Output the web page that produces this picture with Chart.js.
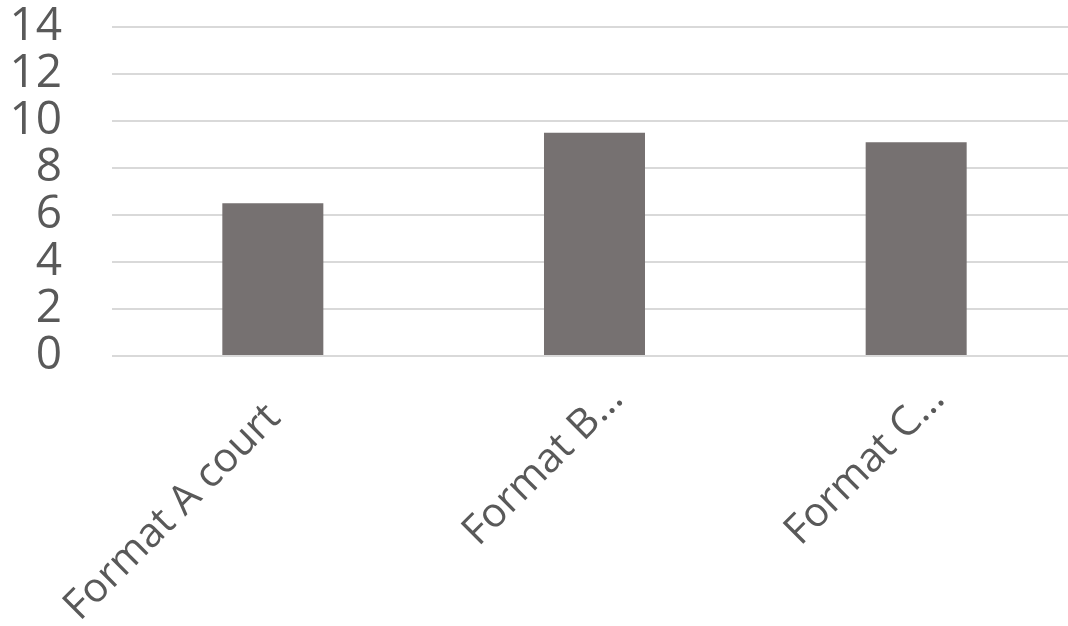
<!DOCTYPE html>
<html>
<head>
<meta charset="utf-8">
<script src="https://cdn.jsdelivr.net/npm/chart.js@4"></script>
<style>
  html, body { margin: 0; padding: 0; background: #fff; overflow: hidden; }
  /* plot runs slightly past the right edge of the picture, as in the original */
  #wrap { width: 1077px; height: 626px; position: relative; }
</style>
</head>
<body>
<div id="wrap"><canvas id="chart"></canvas></div>
<script>
const categories = ['Format A court', 'Format B…', 'Format C…'];
const values = [6.5, 9.5, 9.1];
const yMin = 0;
const yMax = 14;
const yStep = 2;

const textColor = '#595959';
const gridColor = '#d9d9d9';
const barColor = '#767171';

// nudge rotated category labels to where excel put them
const labelNudge = [[1, 22], [22, 3], [22, 3]];
const shiftXLabels = {
  id: 'shiftXLabels',
  beforeDraw(chart) {
    const items = chart.scales.x.getLabelItems();
    items.forEach((it, i) => {
      if (it._shifted) return;
      const n = labelNudge[i] || [0, 0];
      it.options.translation[0] += n[0];
      it.options.translation[1] += n[1];
      it._shifted = true;
    });
  }
};

const chart = new Chart(document.getElementById('chart'), {
  type: 'bar',
  data: {
    labels: categories,
    datasets: [{
      data: values,
      backgroundColor: barColor,
      borderWidth: 0,
      categoryPercentage: 1,
      barPercentage: 0.314
    }]
  },
  options: {
    responsive: true,
    maintainAspectRatio: false,
    animation: false,
    layout: { padding: 0 },
    plugins: {
      legend: { display: false },
      tooltip: { enabled: false }
    },
    scales: {
      x: {
        grid: { display: false },
        border: { display: false },
        ticks: {
          color: textColor,
          font: { family: 'Open Sans', size: 41 },
          minRotation: 45,
          maxRotation: 45,
          autoSkip: false,
          padding: 8
        },
        afterFit: (axis) => { axis.height = 270; }
      },
      y: {
        min: yMin,
        max: yMax,
        border: { display: false },
        grid: { color: gridColor, lineWidth: 2, drawTicks: false },
        ticks: {
          stepSize: yStep,
          autoSkip: false,
          color: textColor,
          font: { family: 'Open Sans', size: 46 },
          padding: 50
        },
        afterFit: (axis) => {
          // tick padding also gets added above/below the axis, drop it
          axis.width = 112;
          axis.paddingTop = 27;
          axis.paddingBottom = 0;
        }
      }
    }
  },
  plugins: [shiftXLabels]
});
</script>
</body>
</html>
